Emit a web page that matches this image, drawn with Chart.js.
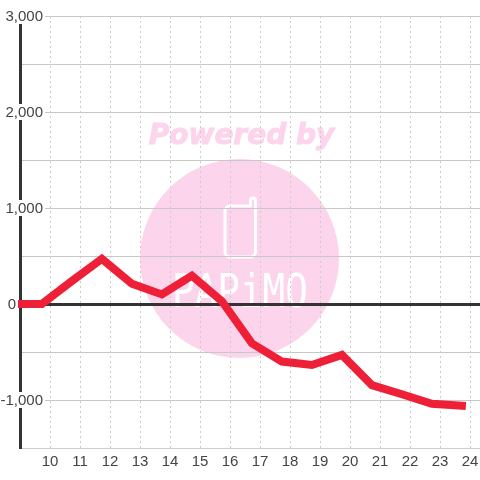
<!DOCTYPE html>
<html lang="en">
<head>
    <meta charset="UTF-8">
    <script src="https://cdn.jsdelivr.net/npm/chart.js"></script>
    <title>Chart</title>
    <style>
        body { margin: 0; background: #fff; }
        canvas { display: block; }
    </style>
</head>
<body>
    <canvas id="chart1" width="480" height="480"></canvas>

    <script>
        // values
        const xPositions = [9, 9.73, 10.73, 11.73, 12.73, 13.73, 14.73, 15.73, 16.73, 17.73, 18.73, 19.73, 20.73, 21.73, 22.73, 23.73];
        const seriesValues = [0, 0, 240, 470, 210, 100, 295, 30, -410, -600, -635, -530, -845, -940, -1040, -1060];
        const xTicks = [10, 11, 12, 13, 14, 15, 16, 17, 18, 19, 20, 21, 22, 23, 24];
        const yTickLabels = { "3000": "3,000", "2000": "2,000", "1000": "1,000", "0": "0", "-1000": "-1,000" };

        const labelFont = '15px "Liberation Sans"';
        const labelColor = '#444';

        // logo behind the chart
        const watermark = {
            id: 'watermark',
            beforeDraw(chart) {
                const ctx = chart.ctx;
                ctx.save();
                ctx.fillStyle = '#fcd5ec';
                ctx.beginPath();
                ctx.arc(239.5, 258.5, 99.5, 0, Math.PI * 2);
                ctx.fill();

                ctx.font = 'italic bold 28px "DejaVu Sans"';
                ctx.textAlign = 'center';
                ctx.textBaseline = 'alphabetic';
                ctx.strokeStyle = '#fcd5ec';
                ctx.lineWidth = 1;
                ctx.fillStyle = '#fcd5ec';
                ctx.fillText('Powered by', 241.5, 144);
                ctx.strokeText('Powered by', 241.5, 144);

                // phone outline
                ctx.strokeStyle = '#fff';
                ctx.lineWidth = 3;
                ctx.lineJoin = 'round';
                ctx.beginPath();
                ctx.moveTo(230, 206);
                ctx.lineTo(250.5, 206);
                ctx.lineTo(250.5, 200.5);
                ctx.arc(253, 200.5, 2.5, Math.PI, 0);
                ctx.lineTo(255.5, 252);
                ctx.arcTo(255.5, 257, 250, 257, 5);
                ctx.lineTo(230, 257);
                ctx.arcTo(225, 257, 225, 252, 5);
                ctx.lineTo(225, 211);
                ctx.arcTo(225, 206, 230, 206, 5);
                ctx.stroke();

                ctx.fillStyle = '#fff';
                ctx.font = '47px "DejaVu Sans Mono"';
                ctx.textAlign = 'left';
                ctx.translate(172, 307);
                ctx.scale(0.8, 1);
                ctx.fillText('PAPiMO', 0, 0);
                ctx.restore();
            }
        };

        // y labels sit on top of the axis with a white box behind them, 0 sits further left
        const yLabels = {
            id: 'yLabels',
            afterDraw(chart) {
                const ctx = chart.ctx;
                const scale = chart.scales.y;
                ctx.save();
                ctx.font = labelFont;
                ctx.textAlign = 'right';
                ctx.textBaseline = 'middle';
                Object.keys(yTickLabels).forEach(value => {
                    const text = yTickLabels[value];
                    const y = scale.getPixelForValue(Number(value));
                    const right = value === "0" ? 16 : 43;
                    const w = ctx.measureText(text).width;
                    ctx.fillStyle = '#fff';
                    ctx.fillRect(right - w - 1, y - 8, w + 3, 16);
                    ctx.fillStyle = labelColor;
                    ctx.fillText(text, right, y + 1);
                });
                ctx.restore();
            }
        };

        new Chart(document.getElementById('chart1').getContext('2d'), {
            type: 'line',
            data: {
                datasets: [{
                    data: seriesValues.map((v, i) => ({ x: xPositions[i], y: v })),
                    borderColor: '#ee2038',
                    borderWidth: 8,
                    borderCapStyle: 'square',
                    borderJoinStyle: 'miter',
                    pointRadius: 0,
                    tension: 0,
                    clip: false
                }]
            },
            options: {
                responsive: false,
                animation: false,
                layout: { padding: { top: 16 } },
                plugins: {
                    legend: { display: false },
                    tooltip: { enabled: false }
                },
                scales: {
                    x: {
                        type: 'linear',
                        min: 9,
                        max: 24.3333,
                        afterBuildTicks: scale => {
                            scale.ticks = xTicks.map(value => ({ value }));
                        },
                        afterFit: scale => {
                            scale.height = 32;
                            scale.paddingLeft = 0;
                            scale.paddingRight = 0;
                        },
                        ticks: {
                            autoSkip: false,
                            maxRotation: 0,
                            padding: 5,
                            color: labelColor,
                            font: { family: 'Liberation Sans', size: 15 },
                            callback: value => String(value)
                        },
                        grid: {
                            color: '#ccc',
                            lineWidth: 1,
                            drawTicks: false
                        },
                        border: {
                            color: '#ccc',
                            width: 1,
                            dash: [2, 3]
                        }
                    },
                    y: {
                        min: -1500,
                        max: 3000,
                        afterFit: scale => {
                            scale.width = 20;
                            scale.paddingTop = 0;
                            scale.paddingBottom = 0;
                        },
                        ticks: {
                            stepSize: 500,
                            display: false
                        },
                        grid: {
                            color: ctx => ctx.tick.value === 0 ? '#333' : '#c8c8c8',
                            lineWidth: ctx => ctx.tick.value === 0 ? 3 : 1,
                            drawTicks: false
                        },
                        border: {
                            color: '#333',
                            width: 3
                        }
                    }
                }
            },
            plugins: [watermark, yLabels]
        });
    </script>
</body>
</html>
